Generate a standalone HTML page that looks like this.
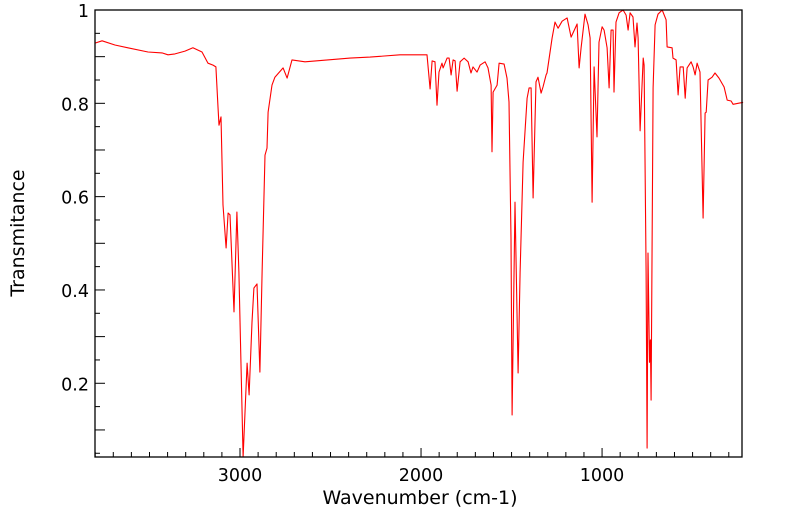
<!DOCTYPE html>
<html><head><meta charset="utf-8"><style>
html,body{margin:0;padding:0;background:#fff;}
svg{display:block;font-family:"DejaVu Sans","Liberation Sans",sans-serif;}
</style></head><body>
<svg id="chart" width="799" height="516" viewBox="0 0 799 516" xmlns="http://www.w3.org/2000/svg">
<rect x="0" y="0" width="799" height="516" fill="#fff"/>
<g id="axes"></g>
<path id="spectrum" fill="none" stroke="#ff0000" stroke-width="1.1" stroke-linejoin="round"/>
<rect x="95" y="10" width="647" height="447" fill="none" stroke="#000" stroke-width="1.3"/>
<text x="420" y="504" text-anchor="middle" font-size="19">Wavenumber (cm-1)</text>
<text x="24" y="233" text-anchor="middle" font-size="19" transform="rotate(-90 24 233)">Transmitance</text>
</svg>
<script>
const wavenumbers=[3801,3762,3691,3619,3508,3431,3398,3359,3304,3260,3210,3177,3149,3133,3122,3116,3105,3094,3077,3066,3055,3033,3017,3006,2983,2961,2950,2934,2923,2906,2890,2878,2862,2851,2845,2823,2807,2762,2740,2713,2641,2392,2282,2116,1967,1950,1939,1923,1912,1901,1884,1878,1856,1845,1834,1823,1812,1801,1784,1762,1740,1724,1713,1691,1674,1646,1630,1613,1608,1602,1580,1569,1541,1525,1514,1503,1497,1481,1464,1453,1436,1414,1403,1392,1381,1365,1354,1337,1326,1309,1304,1276,1260,1243,1221,1193,1171,1138,1127,1116,1094,1077,1066,1055,1044,1028,1017,1000,989,972,961,950,939,934,923,906,884,867,856,845,829,818,807,801,790,773,768,757,751,746,738,733,729,718,707,691,668,646,641,613,608,591,580,569,552,541,530,508,497,486,475,459,442,431,425,414,392,376,354,326,309,287,276,238,221];
const transmittance=[0.929,0.934,0.925,0.919,0.910,0.908,0.904,0.906,0.912,0.919,0.910,0.886,0.882,0.878,0.796,0.753,0.771,0.582,0.490,0.565,0.561,0.353,0.567,0.438,0.040,0.243,0.175,0.331,0.404,0.413,0.224,0.438,0.689,0.704,0.781,0.839,0.856,0.876,0.854,0.893,0.889,0.897,0.899,0.904,0.904,0.831,0.891,0.889,0.796,0.867,0.886,0.876,0.897,0.897,0.861,0.893,0.891,0.826,0.889,0.897,0.889,0.865,0.878,0.867,0.882,0.889,0.876,0.839,0.696,0.824,0.839,0.886,0.884,0.854,0.803,0.511,0.132,0.588,0.222,0.438,0.674,0.811,0.833,0.833,0.597,0.846,0.856,0.822,0.835,0.861,0.865,0.940,0.974,0.961,0.976,0.983,0.942,0.970,0.876,0.919,0.991,0.968,0.940,0.588,0.878,0.728,0.931,0.964,0.957,0.919,0.833,0.957,0.957,0.824,0.974,0.994,1.0,0.989,0.957,0.994,0.985,0.921,0.972,0.940,0.741,0.897,0.882,0.438,0.061,0.479,0.245,0.293,0.164,0.833,0.968,0.991,1.0,0.979,0.921,0.919,0.897,0.893,0.818,0.878,0.878,0.811,0.876,0.889,0.878,0.861,0.886,0.867,0.554,0.779,0.781,0.850,0.856,0.865,0.854,0.835,0.807,0.805,0.798,0.801,0.802];
const xTickLabels=[3000,2000,1000];
const yTickLabels=[0.2,0.4,0.6,0.8,1];
const X0=95,X1=742,Y0=10,Y1=457;
const xMax=3801,xMin=227,yMin=0.042,yMax=1;
function sx(w){return X0+(xMax-w)/(xMax-xMin)*(X1-X0);}
function sy(t){return Y1-(t-yMin)/(yMax-yMin)*(Y1-Y0);}
const NS="http://www.w3.org/2000/svg";
const axes=document.getElementById('axes');
function line(x1,y1,x2,y2,name){const l=document.createElementNS(NS,'line');
l.setAttribute('x1',x1);l.setAttribute('y1',y1);l.setAttribute('x2',x2);l.setAttribute('y2',y2);
l.setAttribute('stroke','#000');l.setAttribute('stroke-width','1');


axes.appendChild(l);}
function text(x,y,s,anchor,name){const t=document.createElementNS(NS,'text');
t.setAttribute('x',x);t.setAttribute('y',y);t.setAttribute('text-anchor',anchor);t.setAttribute('font-size','17.5');t.textContent=s;


axes.appendChild(t);}
for(let w=300;w<=3800;w+=100){const x=sx(w);if(x<X0||x>X1)continue;
line(x,Y1,x,Y1-(w%1000===0?9:5),'x-tick');}
xTickLabels.forEach(w=>text(sx(w),481,String(w),'middle','x-tick-label'));
for(let k=1;k<=20;k++){const t=k*0.05;if(t<yMin)continue;const y=sy(t);
line(X0,y,X0+(k%2===0?10:5),y,'y-tick');}
yTickLabels.forEach(t=>text(89,sy(t)+7,String(t),'end','y-tick-label'));
let d='';
for(let i=0;i<wavenumbers.length;i++){d+=(i?'L':'M')+sx(wavenumbers[i]).toFixed(1)+','+Math.min(Y1,sy(transmittance[i])).toFixed(1);}
document.getElementById('spectrum').setAttribute('d',d);
</script>
</body></html>
